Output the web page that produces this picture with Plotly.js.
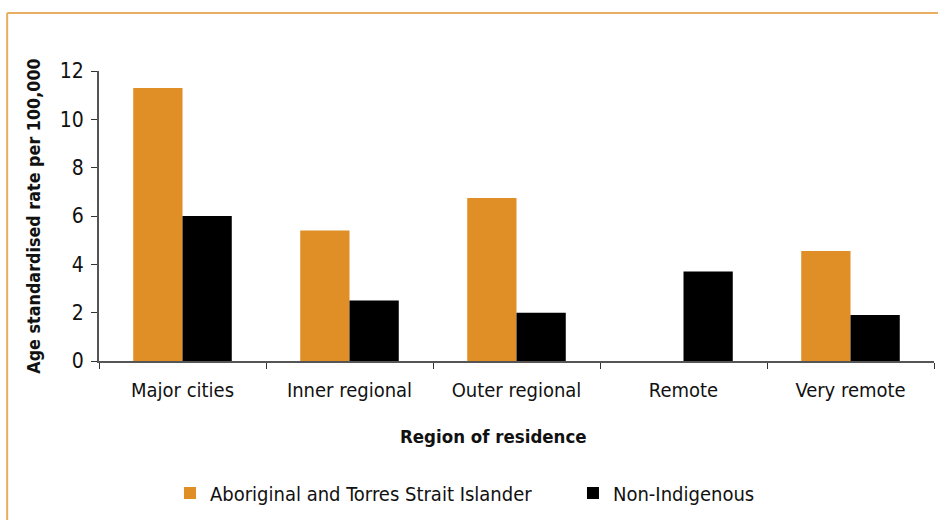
<!DOCTYPE html>
<html>
<head>
<meta charset="utf-8">
<script src="https://cdn.plot.ly/plotly-3.0.1.min.js"></script>
<style>
  body { margin: 0; background: #fff; }
  #chart { width: 938px; height: 520px; }
</style>
</head>
<body>
<div id="chart"></div>
<script>
// region categories and rates per 100,000
let regions = ['Major cities', 'Inner regional', 'Outer regional', 'Remote', 'Very remote'];
let indigenous = [11.3, 5.4, 6.75, null, 4.55];
let nonIndigenous = [6.0, 2.5, 2.0, 3.7, 1.9];
let yTicks = [0, 2, 4, 6, 8, 10, 12];

let font = 'Liberation Sans Narrow, DejaVu Sans Condensed, Arial Narrow, sans-serif';
let frameColor = '#E8AE62';

let traces = [
  {
    x: regions,
    y: indigenous,
    name: 'Aboriginal and Torres Strait Islander',
    type: 'bar',
    marker: {color: '#E08E26'}
  },
  {
    x: regions,
    y: nonIndigenous,
    name: 'Non-Indigenous',
    type: 'bar',
    marker: {color: '#000000'}
  }
];

let layout = {
  width: 938,
  height: 520,
  margin: {l: 99, r: 4, t: 71, b: 159, autoexpand: false},
  paper_bgcolor: '#fff',
  plot_bgcolor: '#fff',
  font: {family: font, size: 20, color: '#111'},
  barmode: 'group',
  bargap: 0.41,
  bargroupgap: 0,
  showlegend: true,
  legend: {
    orientation: 'h',
    x: 0.085,
    y: -0.455,
    xanchor: 'left',
    yanchor: 'middle',
    entrywidth: 358,
    entrywidthmode: 'pixels',
    font: {family: font, size: 20, color: '#111'},
    traceorder: 'normal'
  },
  xaxis: {
    type: 'category',
    tickson: 'boundaries',
    ticks: 'outside',
    ticklen: 6,
    tickcolor: '#333',
    ticklabelstandoff: 10,
    showline: true,
    linecolor: '#555',
    linewidth: 2,
    showgrid: false,
    zeroline: false,
    tickfont: {family: font, size: 20, color: '#111'}
  },
  yaxis: {
    range: [0, 12],
    tickvals: yTicks,
    ticks: 'outside',
    ticklen: 6,
    tickcolor: '#333',
    ticklabelstandoff: 3,
    showline: true,
    linecolor: '#555',
    linewidth: 2,
    showgrid: false,
    zeroline: false,
    tickfont: {family: font, size: 21, color: '#111'},
    title: {
      text: 'Age standardised rate per 100,000',
      font: {family: font, size: 17.8, color: '#111', weight: 'bold'},
      standoff: 15
    }
  },
  annotations: [
    // x axis title, sits a little left of the plot centre in the original
    {xref: 'paper', yref: 'paper', x: 0.472, y: -0.26, xanchor: 'center', yanchor: 'middle',
     showarrow: false, text: '<b>Region of residence</b>',
     font: {family: font, size: 18.5, color: '#111'}}
  ],
  shapes: [
    // orange frame on top and left edges of the figure
    {type: 'line', xref: 'paper', yref: 'paper', x0: -0.110, x1: 1.01, y0: 1.2, y1: 1.2,
     line: {color: frameColor, width: 2}},
    {type: 'line', xref: 'paper', yref: 'paper', x0: -0.110, x1: -0.110, y0: 1.2, y1: -0.56,
     line: {color: frameColor, width: 2}}
  ]
};

Plotly.newPlot('chart', traces, layout, {displayModeBar: false});
</script>
</body>
</html>
